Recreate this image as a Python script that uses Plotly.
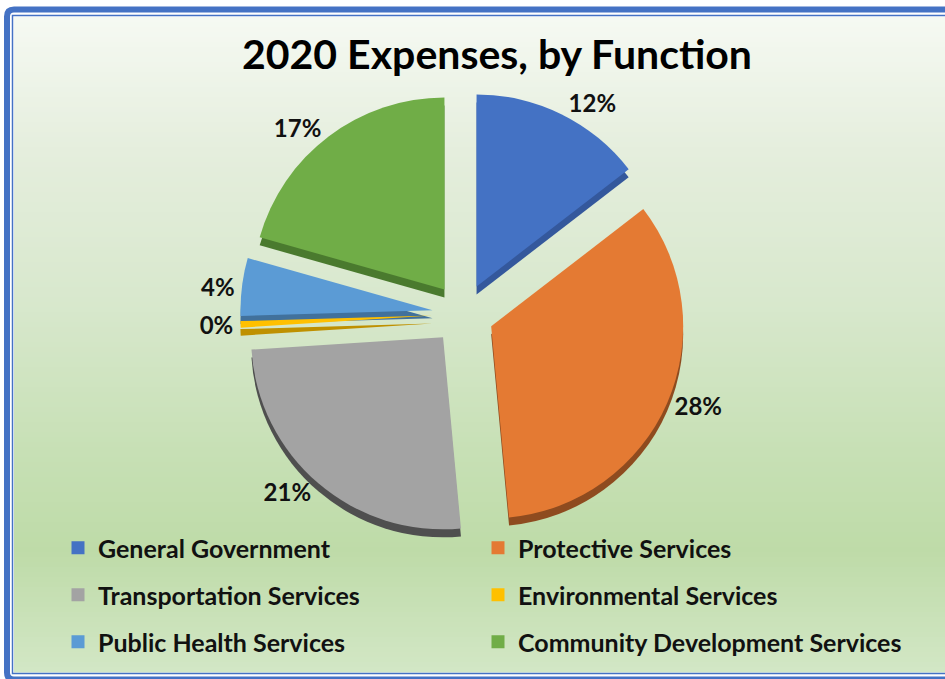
import plotly.graph_objects as go

# ---- data -------------------------------------------------------------
categories = [
    "General Government",
    "Protective Services",
    "Transportation Services",
    "Environmental Services",
    "Public Health Services",
    "Community Development Services",
]
share_pct = [12, 28, 21, 0.45, 4, 17]

# ---- styling ----------------------------------------------------------
face_colors = ["#4472C4", "#E47A33", "#A3A3A3", "#FFC000", "#5B9BD5", "#70AD47"]
side_colors = ["#34589C", "#8E4B1F", "#4F4F4F", "#BF9000", "#41719C", "#4A7A2E"]

W, H = 945, 679


def px_x(v):
    return v / W


def px_y(v):
    return 1 - v / H


# pie geometry (pixels)
cx, cy, r, pull = 463, 314, 192, 0.16
half = r * (1 + pull)
dom_x = [px_x(cx - half), px_x(cx + half)]
dom_y = [px_y(cy + half), px_y(cy - half)]
depth = 8  # visible thickness of the slices

fig = go.Figure()

# slice sides: same pie, darker, shifted down
fig.add_trace(go.Pie(
    values=share_pct, labels=categories, sort=False, direction="clockwise",
    rotation=0, pull=[pull] * len(categories),
    domain=dict(x=dom_x, y=[v - depth / H for v in dom_y]),
    marker=dict(colors=side_colors, line=dict(width=0)),
    textinfo="none", showlegend=False, hoverinfo="skip",
))

# slice faces with outside percentage labels
fig.add_trace(go.Pie(
    values=share_pct, labels=categories, sort=False, direction="clockwise",
    rotation=0, pull=[pull] * len(categories),
    domain=dict(x=dom_x, y=dom_y),
    marker=dict(colors=face_colors, line=dict(width=0)),
    texttemplate="%{value:.0f}%", textposition="outside",
    textfont=dict(family="Lato", size=24, color="#111111", weight="bold"),
    showlegend=False, hovertemplate="%{label}: %{value}%<extra></extra>",
))

# legend: two columns x three rows, each entry in its own legend box
legend_cols_x = [58, 478]
legend_rows_y = [548, 595, 642]
legend_ids = ["legend"] + [f"legend{k}" for k in range(2, len(categories) + 1)]
for name, color, lid in zip(categories, face_colors, legend_ids):
    fig.add_trace(go.Scatter(
        x=[None], y=[None], mode="markers", name=name,
        marker=dict(symbol="square", size=13, color=color),
        legend=lid, hoverinfo="skip",
    ))

legend_style = dict(
    orientation="h", xanchor="left", yanchor="middle",
    font=dict(family="Lato", size=25, color="#111111", weight="bold"),
    bgcolor="rgba(0,0,0,0)", borderwidth=0,
)
legends = {}
for k, lid in enumerate(legend_ids):
    legends[lid] = dict(legend_style,
                        x=px_x(legend_cols_x[k % 2]),
                        y=px_y(legend_rows_y[k // 2]))

# background gradient (top light, greener towards the legend)
stops = [
    (0.00, (245, 249, 242)),
    (0.20, (229, 238, 221)),
    (0.43, (216, 232, 205)),
    (0.66, (199, 224, 181)),
    (0.81, (190, 219, 168)),
    (1.00, (211, 231, 198)),
]


def grad(t):
    for (t0, c0), (t1, c1) in zip(stops[:-1], stops[1:]):
        if t <= t1:
            f = (t - t0) / (t1 - t0)
            return "rgb(%d,%d,%d)" % tuple(round(a + (b - a) * f) for a, b in zip(c0, c1))
    return "rgb(%d,%d,%d)" % stops[-1][1]


shapes = []
top, bottom, step = 17, 672, 5
y = top
while y < bottom:
    y2 = min(y + step, bottom)
    shapes.append(dict(
        type="rect", xref="paper", yref="paper", layer="below",
        x0=px_x(14), x1=1.01, y0=px_y(y2 + 0.5), y1=px_y(y),
        fillcolor=grad((y - top) / (bottom - top)), line=dict(width=0),
    ))
    y = y2

# double blue frame
rad = 7
ox, oy, ob, orr = 7, 9.5, 679.5, W + 10
path = (
    f"M {px_x(ox)},{px_y(ob - rad)} L {px_x(ox)},{px_y(oy + rad)} "
    f"Q {px_x(ox)},{px_y(oy)} {px_x(ox + rad)},{px_y(oy)} "
    f"L {px_x(orr)},{px_y(oy)} L {px_x(orr)},{px_y(ob)} "
    f"L {px_x(ox + rad)},{px_y(ob)} Q {px_x(ox)},{px_y(ob)} {px_x(ox)},{px_y(ob - rad)} Z"
)
shapes.append(dict(type="path", xref="paper", yref="paper", path=path,
                   line=dict(color="#4472C4", width=6), layer="below"))
shapes.append(dict(type="rect", xref="paper", yref="paper", layer="below",
                   x0=px_x(12.5), y0=px_y(15.5), x1=px_x(W + 5), y1=px_y(673.5),
                   line=dict(color="#4472C4", width=1.5)))

fig.update_layout(
    width=W, height=H,
    margin=dict(l=0, r=0, t=0, b=0),
    paper_bgcolor="white", plot_bgcolor="rgba(0,0,0,0)",
    xaxis=dict(visible=False), yaxis=dict(visible=False),
    title=dict(
        text="2020 Expenses, by Function", x=px_x(497), xanchor="center",
        y=px_y(55), yanchor="middle",
        font=dict(family="Lato", size=41, color="#000000", weight="bold"),
    ),
    shapes=shapes,
    **legends,
)

fig.write_html("out.html", config=dict(displayModeBar=False))
